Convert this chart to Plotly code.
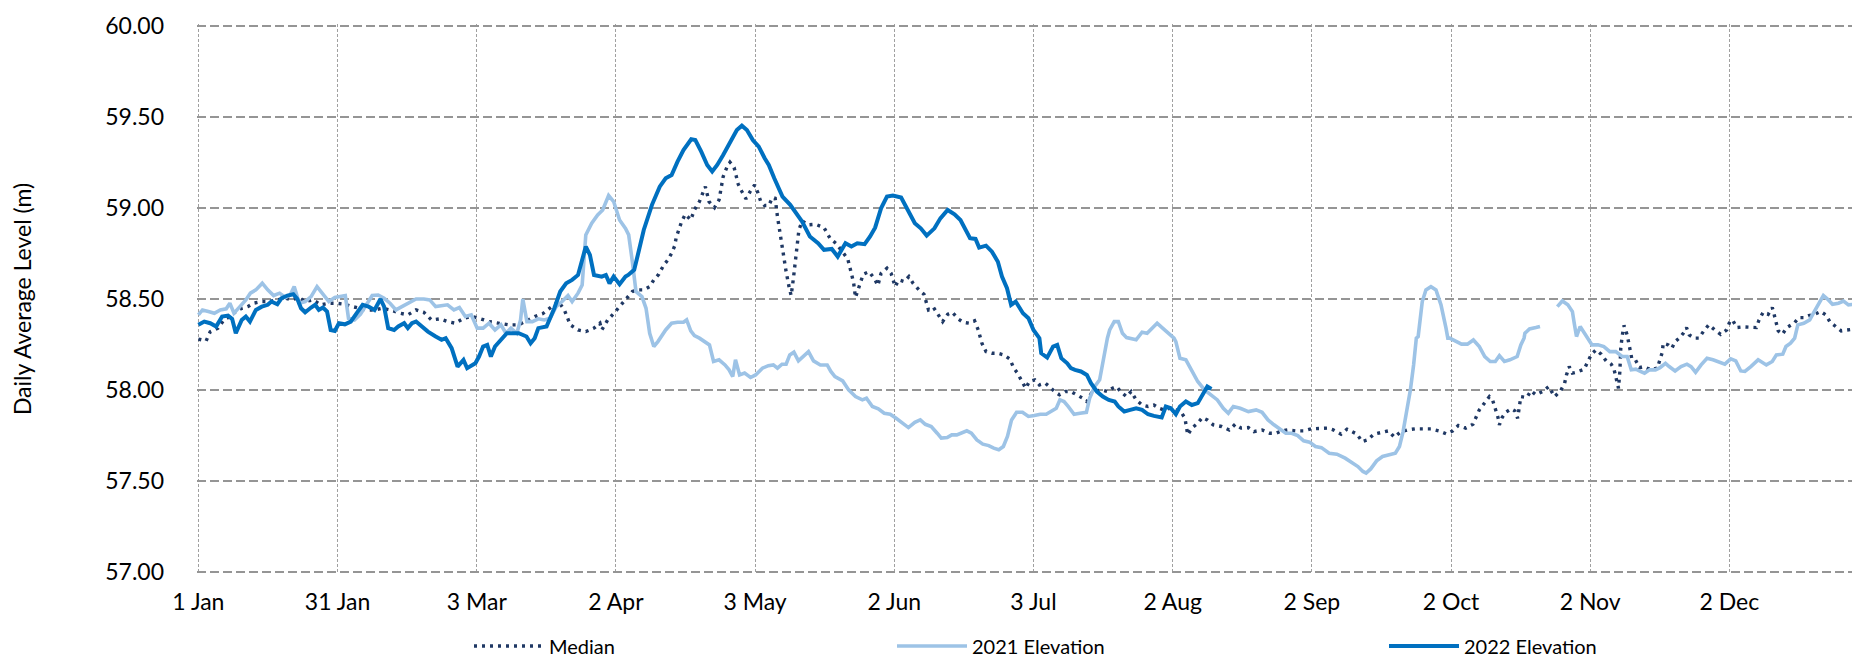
import plotly.graph_objects as go

# ---------------- data (day of year, 0 = 1 Jan) ----------------
tick_days = [0, 30.5, 61, 91.5, 122, 152.5, 183, 213.5, 244, 274.5, 305, 335.5]
tick_labels = ["1 Jan", "31 Jan", "3 Mar", "2 Apr", "3 May", "2 Jun", "3 Jul",
               "2 Aug", "2 Sep", "2 Oct", "2 Nov", "2 Dec"]
y_ticks = [57.0, 57.5, 58.0, 58.5, 59.0, 59.5, 60.0]

median_days = [0, 1.7, 2.6, 4.3, 5.6, 6.9, 8.2, 9.5, 10.8, 12.1, 13.9, 15.6, 17.3, 19.1, 20.4, 22.1,
               23.4, 25.1, 26.9, 28.6, 30.3, 32.1, 33.8, 35.5, 36.8, 38.6, 40.3, 42.0, 44.2, 45.9,
               47.7, 49.4, 51.1, 52.9, 54.6, 56.3, 58.1, 59.8, 61.5, 63.7, 65.9, 68.0, 70.2, 72.0,
               73.7, 75.5, 77.1, 78.9, 80.2, 81.5, 83.2, 84.9, 86.7, 88.0, 88.4, 89.7, 91.0, 92.3,
               93.6, 95.1, 96.4, 97.6, 98.9, 99.8, 100.9, 101.9, 102.9, 103.7, 104.4, 104.7,
               105.9, 106.7, 107.9, 108.7, 109.8, 110.6, 111.1, 111.9, 113.1, 114.1, 115.0, 115.8,
               116.5, 117.4, 118.3, 119.1, 120.0, 121.0, 121.9, 122.6, 123.2, 124.1, 125.0, 125.8,
               126.4, 126.9, 127.5, 128.2, 128.8, 129.5, 129.9, 130.4, 131.0, 131.6, 132.3, 133.6,
               135.3, 137.1, 138.4, 139.7, 141.0, 142.3, 143.1, 143.6, 144.0, 144.9, 145.7, 147.0,
               148.3, 148.9, 149.6, 150.9, 151.8, 152.7, 153.5, 154.7, 155.7, 156.6, 157.9, 159.0,
               160.0, 161.1, 162.2, 163.1, 164.2, 165.2, 166.5, 167.6, 168.9, 170.1, 170.9, 171.3,
               171.7, 172.6, 173.9, 175.2, 176.5, 177.8, 178.7, 179.5, 180.4, 181.3, 182.1, 183.3,
               184.3, 185.6, 186.5, 187.6, 188.7, 190.0, 191.2, 192.5, 193.8, 194.7, 195.7, 196.9,
               198.0, 199.2, 200.3, 201.2, 202.1, 203.4, 204.4, 205.5, 206.8, 208.1, 209.4, 210.5,
               211.6, 212.9, 214.2, 215.5, 216.2, 216.5, 216.8, 217.7, 219.0, 220.0, 221.1, 222.4,
               224.2, 225.9, 227.2, 228.5, 230.1, 231.3, 233.1, 234.8, 236.1, 237.4, 238.7, 240.4,
               242.2, 243.9, 245.6, 247.4, 248.7, 250.4, 251.7, 252.8, 253.9, 255.0, 256.2, 257.6,
               259.2, 260.8, 262.1, 263.4, 264.9, 266.6, 268.4, 270.1, 271.8, 273.5, 274.9, 276.1,
               277.7, 279.3, 280.7, 281.9, 282.9, 283.6, 284.2, 284.8, 285.1, 285.7, 286.5, 287.7,
               288.5, 289.1, 289.8, 291.1, 292.0, 293.1, 294.6, 295.9, 297.2, 298.5, 299.4, 299.8,
               300.4, 301.1, 302.0, 302.8, 303.7, 304.4, 305.3, 306.3, 307.4, 308.5, 309.6, 310.2,
               310.6, 311.0, 311.2, 311.5, 311.7, 312.0, 312.4, 313.1, 313.4, 314.1, 314.8, 315.8,
               316.7, 318.3, 319.7, 320.3, 320.8, 321.0, 322.1, 322.9, 323.6, 324.5, 325.4, 326.1,
               326.7, 327.8, 328.8, 329.9, 331.0, 332.3, 333.6, 334.9, 335.6, 336.2, 337.1, 338.6,
               339.9, 341.4, 342.0, 342.9, 344.0, 344.9, 345.3, 345.8, 346.2, 347.1, 348.1, 349.7,
               350.7, 351.8, 352.9, 354.2, 355.5, 356.6, 357.6, 358.8, 360.0, 361.3, 363.1, 364.0]
median_level = [58.28, 58.27, 58.32, 58.34, 58.385, 58.404, 58.431, 58.449, 58.458, 58.477, 58.486, 58.486,
                58.495, 58.504, 58.495, 58.508, 58.486, 58.495, 58.468, 58.477, 58.477, 58.471, 58.458,
                58.449, 58.44, 58.44, 58.449, 58.44, 58.422, 58.413, 58.44, 58.427, 58.385, 58.391,
                58.376, 58.367, 58.394, 58.404, 58.394, 58.376, 58.367, 58.358, 58.358, 58.38, 58.404,
                58.42, 58.449, 58.486, 58.44, 58.358, 58.33, 58.321, 58.34, 58.367, 58.33, 58.385,
                58.42, 58.46, 58.5, 58.541, 58.55, 58.55, 58.568, 58.605, 58.636, 58.683, 58.715,
                58.751, 58.793, 58.837, 58.925, 58.965, 58.934, 58.989, 59.035, 59.081, 59.117,
                59.035, 59.002, 59.044, 59.172, 59.222, 59.251, 59.222, 59.13, 59.09, 59.05, 59.093,
                59.126, 59.084, 59.038, 59.013, 59.013, 59.057, 59.053, 58.952, 58.852, 58.733,
                58.65, 58.559, 58.519, 58.614, 58.738, 58.879, 58.929, 58.907, 58.91, 58.892, 58.834,
                58.806, 58.764, 58.72, 58.641, 58.587, 58.508, 58.577, 58.636, 58.65, 58.605, 58.574,
                58.641, 58.669, 58.641, 58.568, 58.605, 58.596, 58.623, 58.587, 58.55, 58.526, 58.44,
                58.453, 58.413, 58.376, 58.416, 58.427, 58.391, 58.372, 58.367, 58.38, 58.33, 58.288,
                58.257, 58.211, 58.202, 58.202, 58.193, 58.171, 58.12, 58.093, 58.047, 58.01, 58.047,
                58.056, 58.028, 58.038, 58.019, 57.992, 57.974, 57.992, 57.992, 57.974, 57.955, 57.937,
                57.983, 57.996, 58.001, 57.992, 58.01, 58.019, 57.992, 57.964, 57.992, 57.946, 57.918,
                57.91, 57.918, 57.9, 57.891, 57.9, 57.891, 57.873, 57.845, 57.8, 57.754, 57.791,
                57.818, 57.849, 57.836, 57.809, 57.8, 57.781, 57.812, 57.791, 57.794, 57.772, 57.781,
                57.763, 57.763, 57.776, 57.781, 57.776, 57.776, 57.787, 57.787, 57.791, 57.781,
                57.758, 57.785, 57.772, 57.758, 57.717, 57.726, 57.758, 57.769, 57.776, 57.741,
                57.769, 57.781, 57.787, 57.787, 57.787, 57.776, 57.759, 57.776, 57.805, 57.791,
                57.812, 57.891, 57.928, 57.964, 57.946, 57.9, 57.849, 57.809, 57.849, 57.878, 57.897,
                57.886, 57.845, 57.964, 57.959, 57.996, 57.974, 57.992, 58.019, 57.964, 57.996,
                58.038, 58.083, 58.129, 58.093, 58.098, 58.105, 58.115, 58.153, 58.197, 58.221,
                58.197, 58.16, 58.142, 58.116, 58.074, 58.047, 58.01, 58.102, 58.23, 58.294, 58.355,
                58.303, 58.266, 58.175, 58.171, 58.123, 58.129, 58.111, 58.12, 58.166, 58.208, 58.257,
                58.248, 58.23, 58.266, 58.285, 58.312, 58.343, 58.303, 58.285, 58.285, 58.325, 58.358,
                58.33, 58.306, 58.33, 58.376, 58.385, 58.343, 58.347, 58.343, 58.343, 58.385, 58.427,
                58.416, 58.453, 58.416, 58.372, 58.325, 58.306, 58.343, 58.367, 58.398, 58.398,
                58.409, 58.416, 58.431, 58.413, 58.372, 58.349, 58.325, 58.33, 58.336, 58.27]

elev2021_days = [0, 0.9, 2.2, 3.5, 4.8, 6.1, 6.9, 7.8, 9.1, 10.4, 11.4, 12.6, 14.0, 15.2, 16.5, 17.8,
                 19.1, 20.1, 21.0, 22.1, 23.4, 24.7, 26.0, 27.3, 28.6, 29.9, 31.2, 32.2, 32.9, 34.2,
                 35.5, 36.8, 38.1, 39.4, 40.7, 42.0, 43.3, 44.6, 45.9, 47.7, 49.4, 50.7, 52.0, 53.3,
                 54.6, 56.0, 57.2, 58.5, 59.8, 61.1, 62.4, 63.7, 65.0, 66.3, 67.4, 68.5, 69.8, 70.6,
                 71.1, 72.0, 73.2, 74.5, 75.8, 77.1, 78.4, 79.7, 81.0, 81.9, 83.2, 84.1, 84.9, 86.2,
                 87.5, 88.6, 89.9, 91.0, 92.3, 93.6, 94.3, 95.1, 95.9, 97.2, 98.1, 98.9, 99.8, 100.7,
                 102.4, 103.7, 105.0, 106.3, 107.0, 107.9, 108.7, 109.8, 111.1, 112.0, 112.9, 114.1,
                 115.4, 116.3, 117.1, 117.7, 118.6, 119.7, 121.0, 122.1, 123.6, 124.9, 126.0, 126.9,
                 127.9, 128.8, 129.6, 130.5, 131.5, 132.6, 133.7, 134.8, 136.3, 137.8, 138.6, 139.5,
                 141.2, 142.5, 144.0, 145.5, 146.4, 147.7, 149.0, 150.3, 151.6, 152.9, 154.2, 155.6,
                 157.0, 158.2, 159.3, 160.6, 161.9, 162.8, 164.1, 165.1, 166.2, 167.3, 168.4, 169.4,
                 170.6, 171.9, 173.2, 174.3, 175.4, 176.4, 177.3, 178.2, 179.3, 180.6, 181.9, 183.2,
                 184.5, 185.8, 187.1, 188.0, 188.8, 189.7, 190.6, 191.9, 193.2, 194.6, 195.3, 196.4,
                 197.5, 198.4, 199.2, 199.7, 200.7, 201.6, 202.5, 203.4, 204.2, 205.5, 206.8, 207.9,
                 209.0, 210.1, 211.3, 212.5, 213.8, 214.2, 215.1, 216.4, 217.7, 219.0, 220.5, 222.0,
                 223.3, 224.6, 225.7, 226.8, 228.3, 230.1, 231.8, 233.1, 234.4, 235.7, 237.0, 238.3,
                 239.6, 240.9, 242.2, 243.5, 244.8, 246.1, 247.8, 249.5, 251.3, 252.8, 254.1, 255.2,
                 255.9, 256.9, 258.2, 259.5, 260.8, 262.3, 263.2, 264.0, 264.7, 265.6, 266.3, 266.9,
                 267.3, 268.2, 269.0, 270.1, 271.2, 272.3, 273.4, 273.8, 274.2, 275.5, 276.8, 278.1,
                 279.4, 280.7, 281.9, 283.1, 284.2, 285.1, 286.2, 287.4, 289.0, 289.8, 290.5, 290.7,
                 291.7, 293.1, 294.0,
                 296.0,
                 297.8, 298.9, 300.1, 301.1, 301.5, 302.0, 302.8, 303.6, 304.6, 305.4, 306.7, 308.0,
                 309.3, 310.6, 312.0, 313.1, 314.0, 315.0, 316.0, 316.9, 318.0, 319.3, 320.3, 321.5,
                 322.3, 323.6, 324.9, 326.2, 327.1, 328.1, 329.3, 330.6, 331.9, 333.2, 334.5, 335.8,
                 336.9, 338.0, 338.9, 340.2, 341.8, 343.6, 344.9, 345.8, 347.2, 347.9, 348.9, 349.8,
                 350.5, 351.8, 353.1, 354.1, 355.3, 356.1, 357.0, 358.1, 359.4, 360.5, 361.6, 362.7,
                 363.4, 364.2]
elev2021_level = [58.413, 58.44, 58.431, 58.422, 58.44, 58.446, 58.477, 58.422, 58.458, 58.495, 58.532,
                  58.55, 58.587, 58.55, 58.519, 58.532, 58.508, 58.522, 58.568, 58.477, 58.486, 58.513,
                  58.568, 58.526, 58.486, 58.508, 58.513, 58.519, 58.394, 58.385, 58.416, 58.468,
                  58.519, 58.522, 58.504, 58.477, 58.44, 58.458, 58.477, 58.5, 58.5, 58.495, 58.458,
                  58.464, 58.468, 58.44, 58.453, 58.404, 58.413, 58.34, 58.34, 58.367, 58.33, 58.358,
                  58.312, 58.34, 58.312, 58.385, 58.5, 58.376, 58.376, 58.391, 58.385, 58.394, 58.458,
                  58.486, 58.519, 58.486, 58.532, 58.577, 58.852, 58.916, 58.962, 58.989, 59.068,
                  59.035, 58.934, 58.888, 58.852, 58.705, 58.541, 58.513, 58.449, 58.312, 58.239,
                  58.266, 58.33, 58.367, 58.372, 58.372, 58.385, 58.325, 58.299, 58.285, 58.266,
                  58.248, 58.157, 58.166, 58.138, 58.111, 58.074, 58.166, 58.083, 58.093, 58.069,
                  58.083, 58.12, 58.134, 58.138, 58.12, 58.142, 58.142, 58.193, 58.208, 58.16, 58.189,
                  58.211, 58.16, 58.138, 58.138, 58.102, 58.074, 58.05, 58.001, 57.964, 57.946, 57.955,
                  57.91, 57.897, 57.873, 57.867, 57.845, 57.818, 57.794, 57.823, 57.836, 57.812, 57.8,
                  57.763, 57.736, 57.739, 57.754, 57.754, 57.763, 57.776, 57.763, 57.726, 57.703,
                  57.695, 57.681, 57.672, 57.69, 57.745, 57.836, 57.878, 57.878, 57.855, 57.86, 57.867,
                  57.867, 57.886, 57.9, 57.946, 57.937, 57.91, 57.867, 57.873, 57.878, 57.955, 58.019,
                  58.056, 58.193, 58.285, 58.33, 58.376, 58.376, 58.312, 58.288, 58.285, 58.276,
                  58.318, 58.312, 58.34, 58.367, 58.34, 58.312, 58.285, 58.266, 58.175, 58.166,
                  58.102, 58.047, 58.001, 57.973, 57.946, 57.9, 57.873, 57.91, 57.9, 57.882, 57.891,
                  57.878, 57.836, 57.809, 57.787, 57.763, 57.763, 57.75, 57.721, 57.714, 57.69,
                  57.684, 57.653, 57.648, 57.626, 57.604, 57.58, 57.553, 57.544, 57.567, 57.611,
                  57.635, 57.644, 57.653, 57.69, 57.772, 57.873, 58.001, 58.138, 58.285, 58.294,
                  58.486, 58.55, 58.568, 58.55, 58.468, 58.34, 58.285, 58.285, 58.266, 58.252, 58.252,
                  58.275, 58.239, 58.184, 58.157, 58.157, 58.189, 58.157, 58.166, 58.184, 58.248,
                  58.285, 58.312, 58.336, 58.343, 58.349,
                  None,
                  58.458, 58.489, 58.468, 58.431, 58.367, 58.294, 58.349, 58.32, 58.285, 58.248,
                  58.248, 58.239, 58.211, 58.211, 58.184, 58.184, 58.111, 58.115, 58.102, 58.093,
                  58.111, 58.111, 58.123, 58.147, 58.129, 58.105, 58.129, 58.142, 58.129, 58.098,
                  58.138, 58.175, 58.166, 58.153, 58.142, 58.171, 58.16, 58.105, 58.102, 58.129,
                  58.166, 58.138, 58.157, 58.193, 58.197, 58.239, 58.257, 58.285, 58.358, 58.367,
                  58.385, 58.431, 58.486, 58.519, 58.5, 58.471, 58.477, 58.489, 58.468, 58.471,
                  58.486, 58.427]

elev2022_days = [0, 1.3, 2.6, 3.9, 5.2, 6.5, 7.4, 8.2, 9.5, 10.4, 11.3, 12.6, 13.9, 15.2, 16.0, 17.3,
                 18.2, 19.5, 20.8, 21.7, 22.5, 23.4, 24.7, 25.6, 26.4, 27.3, 28.2, 29.0, 29.9, 30.8,
                 32.1, 33.4, 34.7, 36.0, 37.3, 38.6, 39.9, 40.7, 41.6, 42.9, 43.8, 45.1, 45.9, 46.8,
                 47.7, 49.0, 50.3, 52.0, 53.3, 54.2, 55.5, 56.8, 58.1, 58.9, 60.7, 61.5, 62.4, 63.3,
                 64.1, 65.0, 66.3, 67.6, 70.2, 71.9, 72.8, 73.7, 74.5, 76.3, 78.0, 79.3, 80.6, 81.9,
                 83.2, 84.1, 84.9, 85.8, 86.7, 88.4, 89.3, 90.1, 91.0, 92.3, 93.6, 94.2, 95.5, 96.3,
                 97.6, 99.4, 101.1, 102.4, 103.7, 105.0, 106.3, 108.0, 108.9, 110.2, 111.5, 112.6,
                 113.7, 115.0, 116.7, 118.0, 119.1, 120.2, 121.5, 122.8, 124.1, 125.0, 126.2, 128.0,
                 129.7, 131.0, 132.3, 134.0, 135.8, 137.1, 138.8, 140.1, 141.8, 143.1, 144.4, 146.0,
                 147.2, 148.3, 149.6, 150.9, 152.2, 154.0, 155.3, 157.0, 158.3, 159.6, 161.3, 162.6,
                 164.2, 165.7, 167.0, 168.3, 169.1, 170.3, 171.1, 172.6, 173.9, 175.2, 176.1, 177.2,
                 178.1, 179.1, 180.7, 181.9, 183.0, 184.3, 184.7, 186.0, 187.3, 188.2, 189.1, 190.4,
                 191.2, 192.1, 193.4, 194.7, 195.6, 196.9, 198.2, 199.5, 200.8, 201.6, 202.9, 204.2,
                 205.5, 206.8, 208.1, 209.4, 211.1, 212.0, 213.1, 214.2, 215.1, 216.4, 217.7, 219.0,
                 220.0, 221.1, 222.0]
elev2022_level = [58.358, 58.376, 58.367, 58.349, 58.404, 58.409, 58.391, 58.312, 58.385, 58.404, 58.376,
                  58.44, 58.458, 58.468, 58.486, 58.471, 58.504, 58.519, 58.526, 58.5, 58.449, 58.427,
                  58.453, 58.468, 58.44, 58.453, 58.431, 58.33, 58.325, 58.367, 58.361, 58.376, 58.422,
                  58.468, 58.458, 58.44, 58.5, 58.458, 58.34, 58.33, 58.349, 58.367, 58.34, 58.367,
                  58.376, 58.349, 58.321, 58.294, 58.276, 58.285, 58.23, 58.129, 58.166, 58.12, 58.147,
                  58.184, 58.239, 58.248, 58.184, 58.239, 58.276, 58.312, 58.312, 58.294, 58.257,
                  58.285, 58.34, 58.349, 58.449, 58.541, 58.586, 58.605, 58.632, 58.705, 58.788,
                  58.742, 58.632, 58.623, 58.632, 58.586, 58.623, 58.581, 58.623, 58.632, 58.66,
                  58.742, 58.879, 59.017, 59.117, 59.163, 59.181, 59.254, 59.318, 59.377, 59.373,
                  59.309, 59.236, 59.2, 59.236, 59.291, 59.364, 59.428, 59.452, 59.428, 59.373, 59.337,
                  59.273, 59.236, 59.163, 59.062, 59.017, 58.971, 58.925, 58.843, 58.806, 58.77,
                  58.775, 58.733, 58.806, 58.788, 58.806, 58.801, 58.843, 58.892, 58.998, 59.062,
                  59.068, 59.057, 58.998, 58.916, 58.888, 58.848, 58.888, 58.943, 58.989, 58.965,
                  58.934, 58.866, 58.834, 58.83, 58.782, 58.793, 58.76, 58.705, 58.623, 58.559, 58.468,
                  58.486, 58.422, 58.394, 58.33, 58.285, 58.202, 58.178, 58.239, 58.248, 58.175,
                  58.147, 58.12, 58.111, 58.102, 58.083, 58.038, 57.992, 57.964, 57.946, 57.937, 57.91,
                  57.882, 57.891, 57.9, 57.891, 57.867, 57.858, 57.849, 57.91, 57.9, 57.867, 57.91,
                  57.937, 57.918, 57.928, 57.973, 58.019, 58.006]

# ---------------- figure ----------------
FONT = "Lato, 'Open Sans', sans-serif"

fig = go.Figure()
fig.add_trace(go.Scatter(x=median_days, y=median_level, name="Median", mode="lines",
                         line=dict(color="#1f3864", width=3.4, dash="3px,5px"),
                         legend="legend"))
fig.add_trace(go.Scatter(x=elev2021_days, y=elev2021_level, name="2021 Elevation", mode="lines",
                         line=dict(color="#9dc3e6", width=3.6), connectgaps=False,
                         legend="legend2"))
fig.add_trace(go.Scatter(x=elev2022_days, y=elev2022_level, name="2022 Elevation", mode="lines",
                         line=dict(color="#0070c0", width=4.0),
                         legend="legend3"))

leg_common = dict(orientation="h", yanchor="middle", y=-0.131, xanchor="left",
                  bgcolor="rgba(0,0,0,0)", font=dict(family=FONT, size=20, color="#000000"),
                  itemwidth=70)

fig.update_layout(
    width=1860, height=657,
    margin=dict(l=189, r=4, t=16, b=91, autoexpand=False),
    paper_bgcolor="white", plot_bgcolor="white",
    font=dict(family=FONT, color="#000000"),
    showlegend=True,
    legend=dict(leg_common, x=(461 - 189) / 1667),
    legend2=dict(leg_common, x=(884 - 189) / 1667),
    legend3=dict(leg_common, x=(1376 - 189) / 1667),
    xaxis=dict(range=[-0.3, 365], tickmode="array", tickvals=tick_days, ticktext=tick_labels,
               showgrid=True, gridcolor="#a0a0a0", gridwidth=1, griddash="3px,2px",
               zeroline=False, showline=False, ticks="", ticklabelstandoff=12,
               tickfont=dict(family=FONT, size=23, color="#000000")),
    yaxis=dict(range=[56.99, 60.01], tickmode="array", tickvals=y_ticks,
               ticktext=[f"{v:.2f}" for v in y_ticks],
               showgrid=True, gridcolor="#959595", gridwidth=2.4, griddash="9px,4px",
               zeroline=False, showline=False, ticks="", ticklabelstandoff=32,
               tickfont=dict(family=FONT, size=23, color="#000000"),
               title=dict(text="Daily Average Level (m)", standoff=72,
                          font=dict(family=FONT, size=23, color="#000000"))),
)

fig.write_html("out.html")
